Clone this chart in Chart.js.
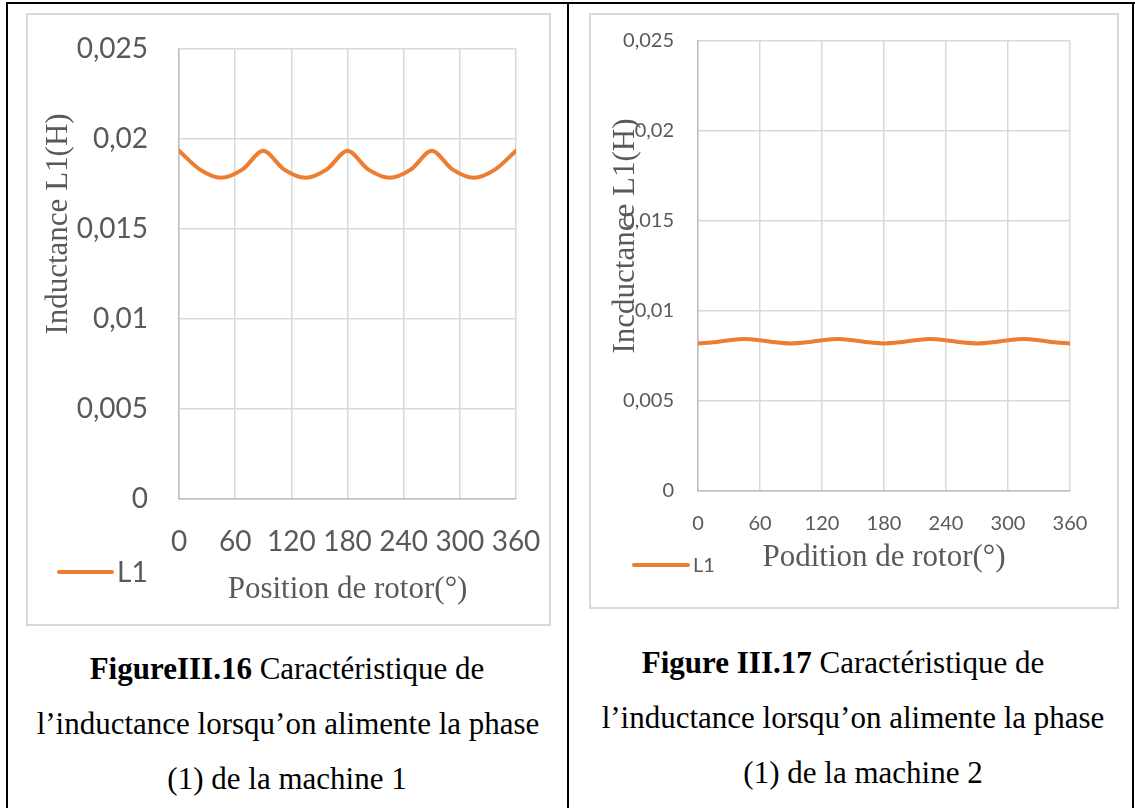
<!DOCTYPE html>
<html lang="fr">
<head>
<meta charset="utf-8">
<title>Inductance L1</title>
<script src="https://cdn.jsdelivr.net/npm/chart.js@4.4.1/dist/chart.umd.min.js"></script>
<style>
  html, body { margin: 0; padding: 0; background: #fff; }
  body { width: 1135px; height: 808px; position: relative; overflow: hidden; }
  .rule { position: absolute; background: #000; }
  .frame { position: absolute; box-sizing: border-box; border: 2px solid #d9d9d9; background: #fff; }
  .frame canvas { position: absolute; left: -2px; top: -2px; }
  .cap { position: absolute; width: 600px; text-align: center; white-space: nowrap;
         font-family: "Liberation Serif", "Times New Roman", serif; font-size: 31px;
         line-height: 55px; color: #000; }
  .cap b { font-weight: bold; }
</style>
</head>
<body>
<!-- table rules -->
<div class="rule" style="left:6px;top:2px;width:1129px;height:2px;"></div>
<div class="rule" style="left:6px;top:2px;width:2px;height:806px;"></div>
<div class="rule" style="left:567px;top:2px;width:2px;height:806px;"></div>
<div class="rule" style="left:1132px;top:2px;width:2px;height:806px;"></div>

<div class="frame" style="left:26px;top:13px;width:525px;height:613px;">
  <canvas id="chart1" width="525" height="613"></canvas>
</div>
<div class="frame" style="left:589px;top:13px;width:530px;height:596px;">
  <canvas id="chart2" width="530" height="596"></canvas>
</div>

<div class="cap" style="left:-13px;top:641px;"><b>FigureIII.16</b> Caractéristique de</div>
<div class="cap" style="left:-12px;top:696px;">l’inductance lorsqu’on alimente la phase</div>
<div class="cap" style="left:-13px;top:751px;">(1) de la machine 1</div>

<div class="cap" style="left:543px;top:635px;"><b>Figure III.17</b> Caractéristique de</div>
<div class="cap" style="left:553px;top:690px;">l’inductance lorsqu’on alimente la phase</div>
<div class="cap" style="left:563px;top:745px;">(1) de la machine 2</div>

<script>
// Rotor position (degrees) and phase-1 inductance (H), machine 1
const rotorPos1 = [0, 22.5, 45, 67.5, 90, 112.5, 135, 157.5, 180, 202.5, 225, 247.5, 270, 292.5, 315, 337.5, 360];
const inductanceL1_m1 = [0.01935, 0.0183, 0.01785, 0.0183, 0.01935, 0.0183, 0.01785, 0.0183, 0.01935,
                         0.0183, 0.01785, 0.0183, 0.01935, 0.0183, 0.01785, 0.0183, 0.01935];

// Rotor position (degrees) and phase-1 inductance (H), machine 2
const rotorPos2 = [0, 15, 30, 45, 60, 75, 90, 105, 120, 135, 150, 165, 180, 195, 210, 225, 240, 255, 270, 285, 300, 315, 330, 345, 360];
const inductanceL1_m2 = [0.0082, 0.00826, 0.00838, 0.00844, 0.00838, 0.00826, 0.0082, 0.00826, 0.00838,
                         0.00844, 0.00838, 0.00826, 0.0082, 0.00826, 0.00838, 0.00844, 0.00838, 0.00826,
                         0.0082, 0.00826, 0.00838, 0.00844, 0.00838, 0.00826, 0.0082];

// Axis ticks
const xTickValues = [0, 60, 120, 180, 240, 300, 360];
const xTickLabels = ['0', '60', '120', '180', '240', '300', '360'];
const yTickValues = [0, 0.005, 0.01, 0.015, 0.02, 0.025];
const yTickLabels = ['0', '0,005', '0,01', '0,015', '0,02', '0,025'];

const seriesName = 'L1';
const lineColor = '#ED7D31';
const textGrey = '#595959';

// Axis titles and legend drawn around the plot area
const annotations = {
  id: 'annotations',
  afterDraw(chart, args, o) {
    const { ctx, chartArea } = chart;
    ctx.save();
    ctx.fillStyle = textGrey;
    ctx.font = o.titleFont;
    ctx.textAlign = 'center';
    ctx.textBaseline = 'alphabetic';
    ctx.fillText(o.xTitle, (chartArea.left + chartArea.right) / 2, o.xTitleBaseline);

    ctx.save();
    ctx.translate(o.yTitleX, o.yTitleY);
    ctx.rotate(-Math.PI / 2);
    ctx.textBaseline = 'middle';
    ctx.fillText(o.yTitle, 0, 0);
    ctx.restore();

    const ds = chart.data.datasets[0];
    ctx.strokeStyle = ds.borderColor;
    ctx.lineWidth = 4;
    ctx.lineCap = 'round';
    ctx.beginPath();
    ctx.moveTo(o.legendX0, o.legendY);
    ctx.lineTo(o.legendX1, o.legendY);
    ctx.stroke();
    ctx.font = o.legendFont;
    ctx.textAlign = 'left';
    ctx.textBaseline = 'middle';
    ctx.fillText(ds.label, o.legendTextX, o.legendY + 1);
    ctx.restore();
  }
};

function makeChart(id, xs, ys, cfg) {
  const pts = xs.map((x, i) => ({ x: x, y: ys[i] }));
  return new Chart(document.getElementById(id), {
    type: 'line',
    data: {
      datasets: [{
        label: seriesName,
        data: pts,
        borderColor: lineColor,
        backgroundColor: lineColor,
        borderWidth: 4,
        pointRadius: 0,
        tension: cfg.tension,
        borderCapStyle: 'round',
        borderJoinStyle: 'round'
      }]
    },
    options: {
      responsive: false,
      animation: false,
      events: [],
      layout: { padding: cfg.padding },
      plugins: {
        legend: { display: false },
        tooltip: { enabled: false },
        annotations: cfg.ann
      },
      scales: {
        x: {
          type: 'linear',
          min: 0, max: 360,
          afterBuildTicks: s => { s.ticks = xTickValues.map(v => ({ value: v })); },
          afterFit: s => { s.height = cfg.xHeight; s.paddingLeft = 0; s.paddingRight = 0; },
          ticks: {
            callback: (v, i) => xTickLabels[i],
            font: { family: 'Lato', size: cfg.tickSize },
            color: textGrey,
            padding: cfg.xPad,
            maxRotation: 0,
            autoSkip: false
          },
          grid: { color: '#d9d9d9', lineWidth: 1.5, drawTicks: false },
          border: { color: '#bfbfbf', width: 1.5 }
        },
        y: {
          type: 'linear',
          min: 0, max: 0.025,
          afterBuildTicks: s => { s.ticks = yTickValues.map(v => ({ value: v })); },
          afterFit: s => { s.width = cfg.yWidth; s.paddingTop = 0; s.paddingBottom = 0; },
          ticks: {
            callback: (v, i) => yTickLabels[i],
            font: { family: 'Lato', size: cfg.tickSize },
            color: textGrey,
            padding: cfg.yPad,
            autoSkip: false
          },
          grid: { color: '#d9d9d9', lineWidth: 1.5, drawTicks: false },
          border: { color: '#bfbfbf', width: 1.5 }
        }
      }
    },
    plugins: [annotations]
  });
}

makeChart('chart1', rotorPos1, inductanceL1_m1, {
  tension: 0.3,
  padding: { top: 36, right: 35, bottom: 0, left: 0 },
  xHeight: 127, yWidth: 153, tickSize: 28, xPad: 26, yPad: 31,
  ann: {
    xTitle: 'Position de rotor(°)', yTitle: 'Inductance L1(H)',
    titleFont: '31px "Liberation Serif", "Times New Roman", serif',
    legendFont: '28px Lato',
    xTitleBaseline: 585, yTitleX: 33, yTitleY: 211,
    legendX0: 33, legendX1: 86, legendY: 559, legendTextX: 91
  }
});

makeChart('chart2', rotorPos2, inductanceL1_m2, {
  tension: 0.4,
  padding: { top: 28, right: 49, bottom: 0, left: 0 },
  xHeight: 118, yWidth: 109, tickSize: 20, xPad: 21, yPad: 24,
  ann: {
    xTitle: 'Podition de rotor(°)', yTitle: 'Incductance L1(H)',
    titleFont: '31px "Liberation Serif", "Times New Roman", serif',
    legendFont: '20px Lato',
    xTitleBaseline: 553, yTitleX: 37, yTitleY: 223,
    legendX0: 45, legendX1: 99, legendY: 552, legendTextX: 104
  }
});
</script>
</body>
</html>
